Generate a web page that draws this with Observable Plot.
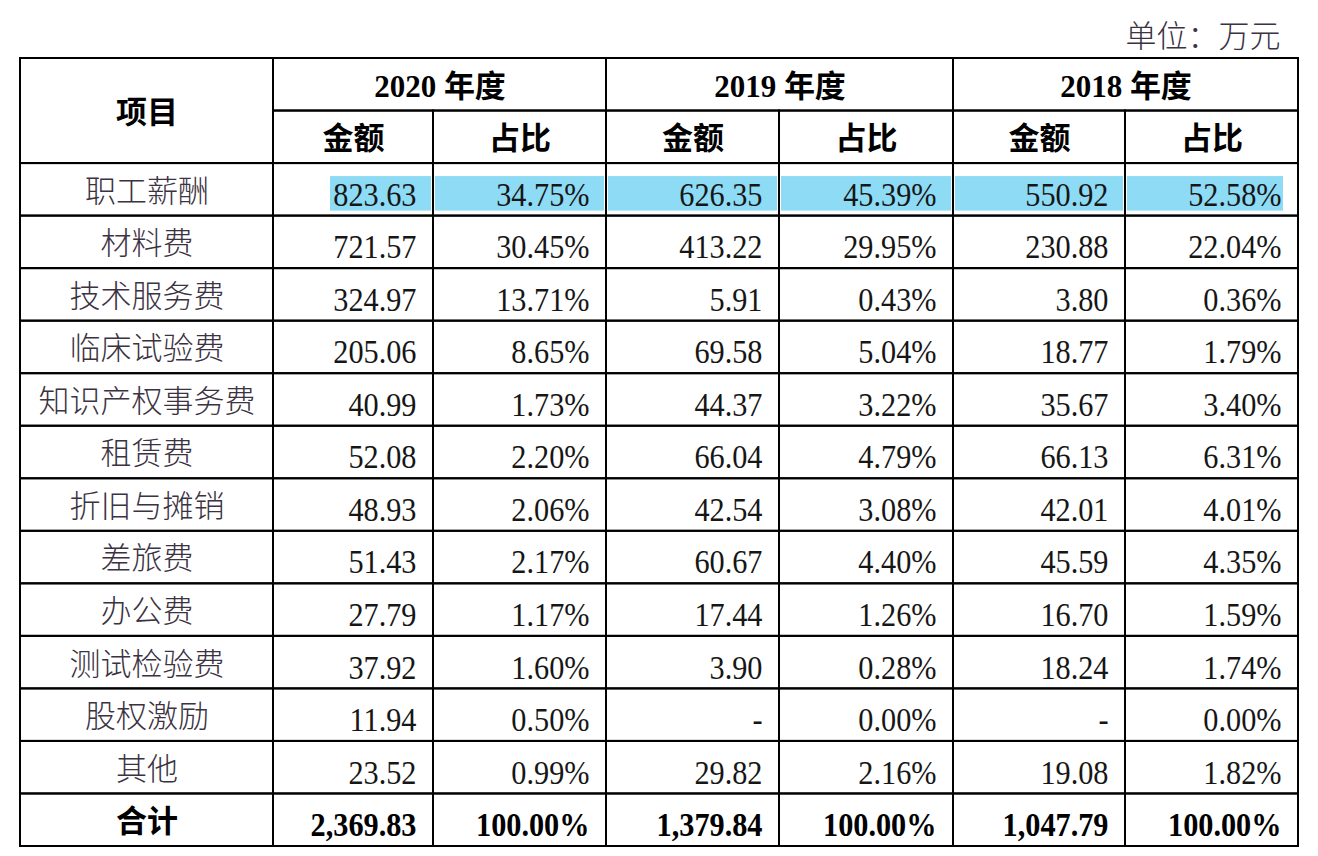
<!DOCTYPE html>
<html><head><meta charset="utf-8">
<script src="https://cdn.jsdelivr.net/npm/d3@7"></script>
<script src="https://cdn.jsdelivr.net/npm/@observablehq/plot@0.6"></script>
<style>body{margin:0;background:#fff}</style>
</head><body><div id="chart"></div>
<script>
// ---------- data ----------
const items = ["职工薪酬","材料费","技术服务费","临床试验费","知识产权事务费","租赁费","折旧与摊销","差旅费","办公费","测试检验费","股权激励","其他"];
const years = ["2020 年度","2019 年度","2018 年度"];
const subHeads = ["金额","占比"];
const headLabel = "项目";
const totalLabel = "合计";
const unitLabel = "单位：万元";
const amount2020 = [823.63,721.57,324.97,205.06,40.99,52.08,48.93,51.43,27.79,37.92,11.94,23.52];
const share2020  = [34.75,30.45,13.71,8.65,1.73,2.20,2.06,2.17,1.17,1.60,0.50,0.99];
const amount2019 = [626.35,413.22,5.91,69.58,44.37,66.04,42.54,60.67,17.44,3.90,null,29.82];
const share2019  = [45.39,29.95,0.43,5.04,3.22,4.79,3.08,4.40,1.26,0.28,0.00,2.16];
const amount2018 = [550.92,230.88,3.80,18.77,35.67,66.13,42.01,45.59,16.70,18.24,null,19.08];
const share2018  = [52.58,22.04,0.36,1.79,3.40,6.31,4.01,4.35,1.59,1.74,0.00,1.82];
const totalAmount = [2369.83,1379.84,1047.79];
const totalShare  = [100.00,100.00,100.00];
const highlightItem = "职工薪酬";

// ---------- layout / style ----------
const colEdges = [20,273,433,606,779,953,1125,1298];
const nRows = 2 + items.length + 1;
const hlColor = "#8edbf5";
const cnFont = "'Noto Sans CJK SC', sans-serif";
const numFont = "'Liberation Serif', 'Noto Sans CJK SC', serif";
const fs = 31;
const numFs = 34;
const numSqueeze = 0.89;

const amounts = [amount2020, amount2019, amount2018];
const shares = [share2020, share2019, share2018];
const fmtAmt = v => v == null ? "-" : d3.format(",.2f")(v);
const fmtPct = v => d3.format(".2f")(v) + "%";
const xs = d3.scaleLinear(d3.range(colEdges.length), colEdges);
const mid = (c0, c1) => xs.invert((xs(c0) + xs(c1)) / 2);

const cells = [];
cells.push({c0:0,c1:1,r0:0,r1:2,text:headLabel,kind:"headCn"});
years.forEach((yr,i) => {
  cells.push({c0:1+2*i,c1:3+2*i,r0:0,r1:1,text:yr,kind:"headYear"});
  subHeads.forEach((s,k) => cells.push({c0:1+2*i+k,c1:2+2*i+k,r0:1,r1:2,text:s,kind:"headCn"}));
});
items.forEach((it,j) => {
  const r = 2 + j;
  cells.push({c0:0,c1:1,r0:r,r1:r+1,text:it,kind:"item"});
  years.forEach((yr,i) => {
    cells.push({c0:1+2*i,c1:2+2*i,r0:r,r1:r+1,text:fmtAmt(amounts[i][j]),kind:"num",hl:it===highlightItem,col:2*i});
    cells.push({c0:2+2*i,c1:3+2*i,r0:r,r1:r+1,text:fmtPct(shares[i][j]),kind:"num",hl:it===highlightItem,col:2*i+1});
  });
});
const rt = 2 + items.length;
cells.push({c0:0,c1:1,r0:rt,r1:rt+1,text:totalLabel,kind:"headCn"});
years.forEach((yr,i) => {
  cells.push({c0:1+2*i,c1:2+2*i,r0:rt,r1:rt+1,text:fmtAmt(totalAmount[i]),kind:"numBold"});
  cells.push({c0:2+2*i,c1:3+2*i,r0:rt,r1:rt+1,text:fmtPct(totalShare[i]),kind:"numBold"});
});

const lastCol = years.length * 2 - 1;
const hlCells = cells.filter(d => d.hl);
const rectOpts = {x1:"c0", x2:"c1", y1:"r0", y2:"r1"};
const yMid = d => (d.r0 + d.r1) / 2;

const chart = Plot.plot({
  width: 1318,
  height: 856,
  margin: 0,
  x: {type:"linear", domain: d3.range(colEdges.length), range: colEdges, axis: null},
  y: {type:"linear", domain: [0, nRows], range: [58, 846], axis: null},
  style: {background: "#fff"},
  marks: [
    Plot.rect(hlCells.filter(d => d.col > 0 && d.col < lastCol), {...rectOpts, fill: hlColor, insetTop: 13, insetBottom: 5, insetLeft: 2, insetRight: 2}),
    Plot.rect(hlCells.filter(d => d.col === 0), {...rectOpts, fill: hlColor, insetTop: 13, insetBottom: 5, insetLeft: 57, insetRight: 2}),
    Plot.rect(hlCells.filter(d => d.col === lastCol), {...rectOpts, fill: hlColor, insetTop: 13, insetBottom: 5, insetLeft: 2, insetRight: 15}),
    Plot.rect(cells, {...rectOpts, fill: "none", stroke: "#000", strokeWidth: 2}),
    Plot.text(cells.filter(d => d.kind === "headCn"), {x: d => mid(d.c0, d.c1), y: yMid, text: "text", fontFamily: cnFont, fontWeight: "bold", fontSize: fs, fill: "#000", dy: 2}),
    Plot.text(cells.filter(d => d.kind === "headYear"), {x: d => mid(d.c0, d.c1), y: yMid, text: "text", fontFamily: numFont, fontWeight: "bold", fontSize: fs, fill: "#000", dy: 2}),
    Plot.text(cells.filter(d => d.kind === "item"), {x: d => mid(d.c0, d.c1), y: yMid, text: "text", fontFamily: cnFont, fontWeight: 300, fontSize: fs, fill: "#3b3242", dy: 2}),
    Plot.text(cells.filter(d => d.kind === "num"), {x: "c1", y: yMid, text: "text", textAnchor: "end", dx: -17, dy: 5, fontFamily: numFont, fontSize: numFs, fill: "#161616"}),
    Plot.text(cells.filter(d => d.kind === "numBold"), {x: "c1", y: yMid, text: "text", textAnchor: "end", dx: -17, dy: 5, fontFamily: numFont, fontWeight: "bold", fontSize: numFs, fill: "#000"}),
    Plot.text([unitLabel], {x: () => colEdges.length - 1, y: () => -0.4, text: d => d, textAnchor: "end", dx: -18, fontFamily: cnFont, fontWeight: 300, fontSize: fs, fill: "#3b3242"})
  ]
});
// horizontally condense the serif numerals (right-aligned number cells) like the scanned document
d3.select(chart).selectAll("text").each(function() {
  let g = this.parentNode, anchor = null, family = null;
  while (g && g !== chart.parentNode) {
    if (g.getAttribute) {
      if (anchor == null && g.getAttribute("text-anchor")) anchor = g.getAttribute("text-anchor");
      if (family == null && g.getAttribute("font-family")) family = g.getAttribute("font-family");
    }
    g = g.parentNode;
  }
  if (anchor !== "end" || !family || !family.includes("Liberation")) return;
  const t = this.getAttribute("transform");
  if (t) {
    this.setAttribute("transform", t + ` scale(${numSqueeze},1)`);
  } else {
    const x = +(this.getAttribute("x") || 0), y = +(this.getAttribute("y") || 0);
    this.removeAttribute("x"); this.removeAttribute("y");
    this.setAttribute("transform", `translate(${x},${y}) scale(${numSqueeze},1)`);
  }
});
document.getElementById("chart").appendChild(chart);
</script>
</body></html>
